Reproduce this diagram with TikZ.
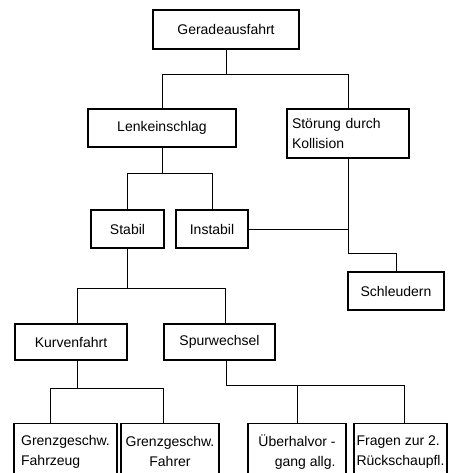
\documentclass[tikz,border=0pt]{standalone}
\usepackage{fontspec}
\setmainfont{Liberation Sans}
\tikzset{
  box/.style={draw,line width=1.2pt,minimum height=38pt,inner sep=4pt},
  keybox/.style={box,line width=2.2pt},
  leaf/.style={box,anchor=north,minimum height=56pt},
  link/.style={line width=0.9pt}
}
\begin{document}
\begin{tikzpicture}[x=1pt,y=-1pt,font=\fontsize{14}{20}\selectfont]

\useasboundingbox (0,0) rectangle (449,473);
\clip (0,0) rectangle (449,473);

\node (gerade) at (226,29.5) [keybox,minimum width=146pt,minimum height=39pt] {Geradeausfahrt};
\node (lenk) at (162,128) [box,minimum width=148pt] {Lenkeinschlag};
\node (stoer) at (348,133.5) [box,inner xsep=5pt,text width=112pt,minimum height=49pt,align=left] {Störung durch\\Kollision};
\node (stabil) at (127.5,229) [keybox,minimum width=73pt] {Stabil};
\node (instabil) at (212,229) [box,minimum width=72pt] {Instabil};
\node (schleu) at (396,291) [box,minimum width=96pt] {Schleudern};
\node (kurve) at (71,342) [keybox,minimum width=112pt,minimum height=36pt] {Kurvenfahrt};
\node (spur) at (219.5,342) [keybox,minimum width=111pt,minimum height=36pt] {Spurwechsel};
\node (fzg) at (65.5,423) [leaf,minimum width=103pt,align=left] {Grenzgeschw.\\Fahrzeug};
\node (fahrer) at (170,423) [leaf,minimum width=98pt,align=center] {Grenzgeschw.\\Fahrer};
\node (ueber) at (297,423) [leaf,minimum width=98pt,align=right] {Überhalvor -\\gang allg.};
\node (fragen) at (400.5,423) [leaf,inner xsep=2pt,minimum width=93pt,align=left] {Fragen zur 2.\\Rückschaupfl.};

\draw [link] (gerade.south) -- ++(0,24) coordinate (g1);
\draw [link] (lenk.north) |- (g1) -| (stoer.north);

\draw [link] (lenk.south) -- ++(0,26) coordinate (l1);
\draw [link] (stabil.north) |- (l1) -| (instabil.north);

\draw [link] (instabil.east) -- (instabil.east -| stoer.south);
\draw [link] (stoer.south) -- ++(0,95) coordinate (s1) -| (schleu.north);

\draw [link] (stabil.south) -- ++(0,39) coordinate (st1);
\draw [link] ([xshift=6pt]kurve.north) |- (st1) -| ([xshift=5.5pt]spur.north);

\draw [link] ([xshift=6pt]kurve.south) -- ++(0,27) coordinate (k1);
\draw [link] ([xshift=-15.5pt]fzg.north) |- (k1) -| ([xshift=-7pt]fahrer.north);

\draw [link] ([xshift=6.5pt]spur.south) -- ++(0,24) coordinate (sp1);
\draw [link] (ueber.north) |- (sp1) -| ([xshift=3.5pt]fragen.north);

\end{tikzpicture}
\end{document}
